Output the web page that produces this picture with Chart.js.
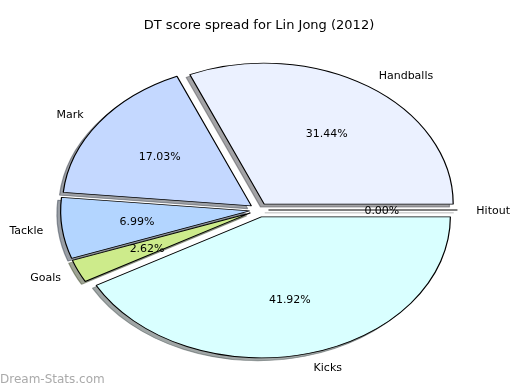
<!DOCTYPE html>
<html>
<head>
<meta charset="utf-8">
<script src="https://cdn.jsdelivr.net/npm/chart.js@4.4.1/dist/chart.umd.min.js"></script>
<style>
  html, body { margin: 0; padding: 0; background: #fff; }
  #wrap { width: 520px; height: 390px; }
</style>
</head>
<body>
<div id="wrap"><canvas id="pie" width="520" height="390"></canvas></div>
<script>
// slices, counter-clockwise from east (as in the original)
const categories = ['Handballs', 'Mark', 'Tackle', 'Goals', 'Kicks', 'Hitout'];
const shares = [31.44, 17.03, 6.99, 2.62, 41.92, 0.00];
const sliceColors = ['#ebf1ff', '#c4d8ff', '#b3d5ff', '#cdeb8b', '#d9ffff', '#ffffff'];

// geometry of the squashed pie
const R = 141;            // vertical radius
const SX = 189 / 141;     // horizontal stretch
const EXPLODE = 0.05 * R; // gap for each slice
const SHADOW = [-3.7, 2.8];
const FAR = 3000;
const FONT = "'DejaVu Sans', 'Liberation Sans', sans-serif";

// Chart.js goes clockwise, so feed the slices reversed
const labels = categories.slice().reverse();
const values = shares.slice().reverse();
const colors = sliceColors.slice().reverse();

function shadowOf(hex) {
  const n = parseInt(hex.slice(1), 16);
  const r = (n >> 16) & 255, g = (n >> 8) & 255, b = n & 255;
  return `rgba(${0.3 * r},${0.3 * g},${0.3 * b},0.5)`;
}

function midAngle(arc) {
  return (arc.startAngle + arc.endAngle) / 2;
}

function paint(ctx, arc) {
  if (arc.circumference === 0) {
    // zero share: matplotlib draws a bare spoke
    const a = arc.startAngle;
    ctx.beginPath();
    ctx.moveTo(arc.x, arc.y);
    ctx.lineTo(arc.x + Math.cos(a) * arc.outerRadius, arc.y + Math.sin(a) * arc.outerRadius);
    ctx.lineWidth = arc.options.borderWidth;
    ctx.strokeStyle = arc.options.borderColor;
    ctx.stroke();
  } else {
    arc.draw(ctx);
  }
}

const squashedPie = {
  id: 'squashedPie',
  beforeDatasetsDraw(chart) {
    const ctx = chart.ctx;
    const arcs = chart.getDatasetMeta(0).data;
    const cx = arcs[0].x, cy = arcs[0].y;
    ctx.save();
    ctx.translate(cx, cy);
    ctx.scale(SX, 1);
    ctx.translate(-cx, -cy);

    // shadows first, underneath everything
    arcs.forEach((arc, i) => {
      const a = midAngle(arc);
      ctx.save();
      ctx.translate(Math.cos(a) * EXPLODE - FAR, Math.sin(a) * EXPLODE);
      ctx.shadowColor = shadowOf(colors[i]);
      ctx.shadowBlur = 0;
      ctx.shadowOffsetX = FAR * SX + SHADOW[0];
      ctx.shadowOffsetY = SHADOW[1];
      paint(ctx, arc);
      ctx.restore();
    });

    arcs.forEach(arc => {
      const a = midAngle(arc);
      ctx.save();
      ctx.translate(Math.cos(a) * EXPLODE, Math.sin(a) * EXPLODE);
      paint(ctx, arc);
      ctx.restore();
    });

    ctx.restore();
    return false;
  },
  afterDraw(chart) {
    const ctx = chart.ctx;
    const arcs = chart.getDatasetMeta(0).data;
    const cx = arcs[0].x, cy = arcs[0].y + 1;
    ctx.save();
    ctx.font = `11px ${FONT}`;
    ctx.fillStyle = '#000';
    ctx.textBaseline = 'middle';
    arcs.forEach((arc, i) => {
      const a = midAngle(arc);
      const c = Math.cos(a), s = Math.sin(a);
      // category label outside
      const lr = EXPLODE + 1.1 * R;
      ctx.textAlign = c >= -1e-9 ? 'left' : 'right';
      ctx.fillText(chart.data.labels[i], cx + SX * lr * c, cy + lr * s);
      // percentage inside
      const pr = EXPLODE + 0.6 * R;
      ctx.textAlign = 'center';
      ctx.fillText(values[i].toFixed(2) + '%', cx + SX * pr * c, cy + pr * s);
    });
    ctx.font = `12px ${FONT}`;
    ctx.fillStyle = '#aaaaaa';
    ctx.textAlign = 'left';
    ctx.fillText('Dream-Stats.com', 0, 380);
    ctx.restore();
  }
};

new Chart(document.getElementById('pie'), {
  type: 'pie',
  data: {
    labels: labels,
    datasets: [{
      data: values,
      backgroundColor: colors,
      borderColor: '#000',
      borderWidth: 0.9
    }]
  },
  options: {
    responsive: false,
    animation: false,
    events: [],
    rotation: 90,
    radius: R,
    layout: { padding: { left: 0, right: 2, top: 0, bottom: 3 } },
    plugins: {
      legend: { display: false },
      tooltip: { enabled: false },
      title: {
        display: true,
        text: 'DT score spread for Lin Jong (2012)',
        color: '#000',
        font: { family: FONT, size: 13, weight: 'normal' },
        padding: { top: 17.5, bottom: 0 }
      }
    }
  },
  plugins: [squashedPie]
});
</script>
</body>
</html>
